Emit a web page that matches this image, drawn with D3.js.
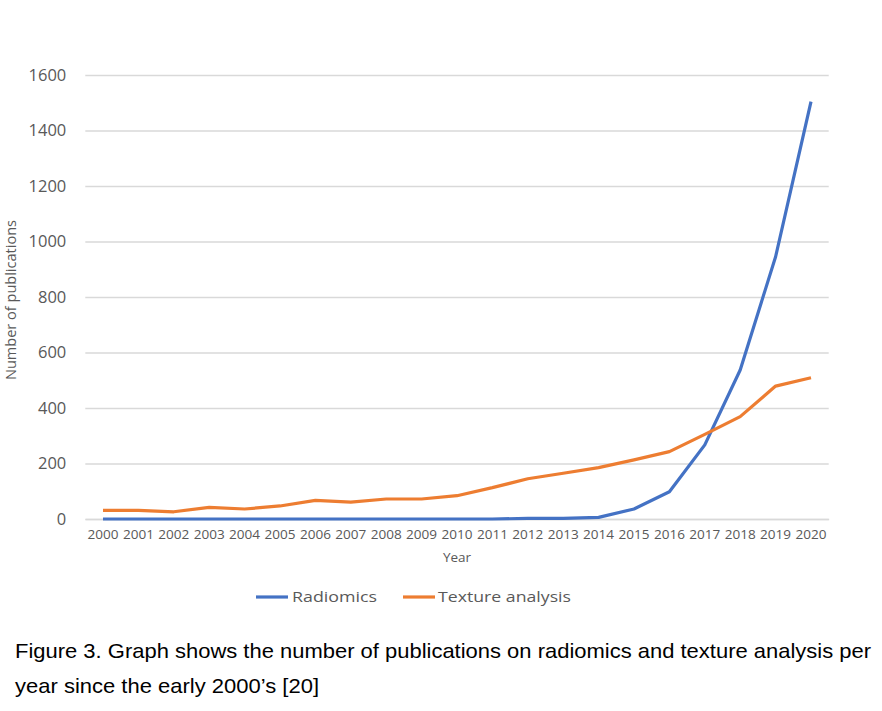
<!DOCTYPE html>
<html><head><meta charset="utf-8">
<script src="https://cdn.jsdelivr.net/npm/d3@7"></script>
<style>body{margin:0;background:#fff}svg{display:block}</style>
</head><body>
<script>
const years = ["2000","2001","2002","2003","2004","2005","2006","2007","2008","2009","2010","2011","2012","2013","2014","2015","2016","2017","2018","2019","2020"];
const radiomics = [0,0,0,0,0,0,0,0,0,0,0,0,2,2,6,36,98,267,537,945,1504];
const texture = [31,31,26,42,36,47,67,61,72,72,84,113,145,165,185,213,243,305,369,479,509];
const yTicks = [0,200,400,600,800,1000,1200,1400,1600];
const seriesNames = ["Radiomics","Texture analysis"];
const colors = ["#4472C4","#ED7D31"];

const W = 882, H = 711;
const svg = d3.select("body").append("svg").attr("width", W).attr("height", H);
const x = d3.scaleBand().domain(years).range([85.3, 828.7]);
const y = d3.scaleLinear().domain([0,1600]).range([519, 75]);
const cx = d => x(d) + x.bandwidth()/2;

// gridlines
const gy = d3.axisLeft(y).tickValues(yTicks).tickSize(-(828.7-85.3)).tickPadding(19).tickFormat(d3.format("d"));
const gAxis = svg.append("g").attr("transform","translate(85.3,0)").call(gy);
gAxis.select(".domain").remove();
gAxis.selectAll(".tick line").attr("stroke","#d9d9d9").attr("stroke-width",1.3);
gAxis.selectAll(".tick text").attr("fill","#595959").style("font-family","'Open Sans', sans-serif").style("font-size","16.5px");

const xa = d3.axisBottom(x).tickSize(0).tickPadding(11);
const xAxis = svg.append("g").attr("transform","translate(0,519)").call(xa);
xAxis.select(".domain").attr("stroke","#d9d9d9").attr("stroke-width",1.3);
xAxis.selectAll(".tick text").attr("fill","#595959").style("font-family","'Open Sans', sans-serif").style("font-size","13px").attr("textLength",31).attr("lengthAdjust","spacingAndGlyphs");

const line = d3.line().x((d,i) => cx(years[i])).y(d => y(d));
[radiomics, texture].forEach((s,k) => {
  svg.append("path").datum(s).attr("d", line).attr("fill","none")
    .attr("stroke", colors[k]).attr("stroke-width", 3.2).attr("stroke-linejoin","round");
});

svg.append("text").attr("x",457).attr("y",562).attr("text-anchor","middle")
  .attr("fill","#595959").style("font-family","'Open Sans', sans-serif").style("font-size","13.5px").text("Year");

svg.append("text").attr("transform","translate(16,300) rotate(-90)").attr("text-anchor","middle")
  .attr("fill","#595959").style("font-family","'Liberation Sans Narrow','Open Sans', sans-serif").style("font-size","14.5px")
  .attr("textLength",160).attr("lengthAdjust","spacingAndGlyphs").text("Number of publications");

// legend
const leg = [{x1:256,tx:292,w:85},{x1:403,tx:438,w:133}];
seriesNames.forEach((n,k) => {
  svg.append("line").attr("x1",leg[k].x1).attr("x2",leg[k].x1+32).attr("y1",597).attr("y2",597)
    .attr("stroke",colors[k]).attr("stroke-width",3.2);
  svg.append("text").attr("x",leg[k].tx).attr("y",602).attr("fill","#595959")
    .style("font-family","'Open Sans', sans-serif").style("font-size","15px")
    .attr("textLength",leg[k].w).attr("lengthAdjust","spacingAndGlyphs").text(n);
});

// caption
const cap = ["Figure 3. Graph shows the number of publications on radiomics and texture analysis per","year since the early 2000\u2019s [20]"];
const capW = [856, 304];
cap.forEach((t,i) => {
  svg.append("text").attr("x",15).attr("y",658+i*35).attr("fill","#000")
    .style("font-family","'Liberation Sans Narrow','Liberation Sans', sans-serif").style("font-size","21px")
    .attr("textLength",capW[i]).attr("lengthAdjust","spacingAndGlyphs").text(t);
});
</script>
</body></html>
